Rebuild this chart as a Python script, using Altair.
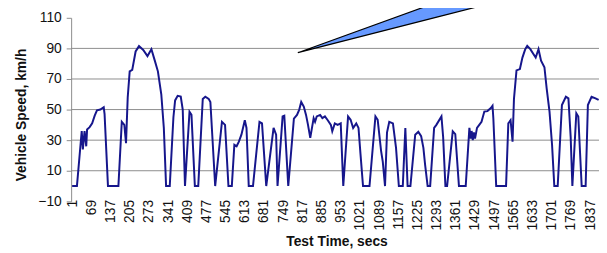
import altair as alt
import pandas as pd

# Speed trace (seconds, km/h)
TIME_S = [1, 18, 35, 39, 45, 51, 54, 63, 72, 81, 89, 101, 113, 116, 128,
          165, 177, 186, 192, 198, 205, 214, 226, 238, 253, 268, 282, 294, 305, 317, 326, 334,
          347, 360, 366, 375, 386, 393, 401, 417, 424, 436, 448, 464, 473, 485, 491, 508,
          532, 543, 555, 567, 576, 584, 592, 601, 613, 619, 627, 642, 665, 674, 689,
          715, 724, 729, 747, 753, 767, 787, 798, 806, 813, 822, 830, 837, 845, 857, 862,
          868, 880, 888, 897, 907, 918, 923, 932, 942, 953, 962, 979, 988, 997, 1008, 1016,
          1023, 1032, 1055, 1076, 1084, 1096, 1102, 1110, 1117, 1125, 1138, 1149, 1159, 1173,
          1182, 1190, 1200, 1217, 1228, 1238, 1246, 1252, 1261, 1270, 1284, 1292, 1310, 1316,
          1324, 1330, 1350, 1359, 1372, 1396, 1409, 1414, 1417, 1421, 1425, 1429, 1436, 1444,
          1452, 1462, 1473, 1485, 1491, 1494, 1504, 1539, 1547, 1555, 1562, 1567, 1576, 1588,
          1597, 1607, 1614, 1625, 1637, 1644, 1654, 1663, 1675, 1683, 1693, 1702, 1710, 1722,
          1737, 1751, 1760, 1768, 1774, 1788, 1795, 1807, 1821, 1829, 1842, 1856, 1867]
SPEED_KMH = [0, 0, 36, 24, 36, 26, 37, 38.5, 41, 46, 49.5, 50, 51.5, 47, 0,
             0, 42, 40, 28, 58, 75, 76, 88, 91.5, 89, 85, 89.5, 82, 75, 60, 38, 0,
             0, 45, 56, 59, 58.5, 50, 0, 48.5, 46.5, 0, 0, 57, 58.4, 57, 55, 0,
             42, 40, 0, 0, 27, 26, 29, 33.6, 43, 38, 0, 0, 42, 41, 0,
             38, 33.6, 0, 45.5, 46, 0, 44, 46.5, 50, 55, 52, 46.5, 40, 31.5, 44.4, 42,
             45.5, 46.5, 44.4, 45.5, 43, 40, 35.8, 41, 40, 41, 0, 45.5, 43.3, 38, 41, 38,
             21, 0, 0, 45.5, 43.3, 23, 16, 0, 35, 42, 41, 25, 0, 0,
             38, 0, 0, 33.6, 35.5, 32.6, 25, 14, 0, 0, 38, 40, 45.5, 32,
             0, 0, 35.8, 34, 0, 0, 38, 31, 36, 30, 35, 31, 38, 40,
             42, 48.7, 49, 51, 52.5, 44, 0, 0, 41, 43, 29, 57, 75.6, 76.5,
             84, 89.5, 91.7, 89.5, 86, 84, 89.5, 82, 77.7, 63.7, 48.7, 27, 0, 0,
             53, 58.4, 57.3, 32, 0, 47.6, 45.5, 0, 0, 53, 58.4, 57.3, 56.3]

X_TICKS = [1, 69, 137, 205, 273, 341, 409, 477, 545, 613, 681, 749, 817, 885, 953,
           1021, 1089, 1157, 1225, 1293, 1361, 1429, 1497, 1565, 1633, 1701, 1769, 1837]
Y_TICKS = [-10, 10, 30, 50, 70, 90, 110]
GRID_LINES = [10, 30, 50, 70, 90]

# Callout pointer (data units)
CALLOUT_X = [801, 1297, 1503]
CALLOUT_TOP = [87.2, 120.3, 120.3]
CALLOUT_BOTTOM = [87.2, 110.6, 120.3]

FONT = "Liberation Sans"

df = pd.DataFrame({"t": TIME_S, "v": SPEED_KMH})
df_grid = pd.DataFrame({"v": GRID_LINES})
df_call = pd.DataFrame({"t": CALLOUT_X, "v": CALLOUT_TOP, "bot": CALLOUT_BOTTOM})

x_scale = alt.Scale(domain=[-2.5, 1868.4], nice=False, zero=False)
y_scale = alt.Scale(domain=[-10, 110], nice=False, zero=False)

x_axis = alt.Axis(
    values=X_TICKS,
    format="d",
    labelAngle=270,
    labelAlign="right",
    labelBaseline="middle",
    labelFont=FONT,
    labelFontSize=14,
    labelColor="#111111",
    labelPadding=-2,
    labelOverlap=False,
    labelFlush=False,
    domain=False,
    ticks=False,
    grid=False,
    titleFont=FONT,
    titleFontSize=14,
    titleFontWeight="bold",
    titleColor="#111111",
    titleX=269,
    titleY=45,
    titleAlign="center",
    titleBaseline="alphabetic",
)
y_axis = alt.Axis(
    values=Y_TICKS,
    format="d",
    grid=False,
    domainColor="#8c8c8c",
    tickColor="#8c8c8c",
    tickSize=5,
    labelPadding=5,
    labelFont=FONT,
    labelFontSize=14,
    labelColor="#111111",
    titleFont=FONT,
    titleFontSize=14,
    titleFontWeight="bold",
    titleColor="#111111",
    titleAngle=270,
    titleX=-50,
    titleY=98,
    titleAlign="center",
    titleBaseline="middle",
)

X_TITLE = "Test Time, secs"
Y_TITLE = "Vehicle Speed, km/h"

line = alt.Chart(df).mark_line(color="#16168c", strokeWidth=2).encode(
    x=alt.X("t:Q", scale=x_scale, axis=x_axis, title=X_TITLE),
    y=alt.Y("v:Q", scale=y_scale, axis=y_axis, title=Y_TITLE),
)

grid = alt.Chart(df_grid).mark_rule(color="#8c8c8c", strokeWidth=1).encode(
    y=alt.Y("v:Q", scale=y_scale, axis=y_axis, title=Y_TITLE)
)

callout = alt.Chart(df_call).mark_area(
    fill="#6699ff", stroke="black", strokeWidth=1.2, opacity=1
).encode(
    x=alt.X("t:Q", scale=x_scale, axis=x_axis, title=X_TITLE),
    y=alt.Y("v:Q", scale=y_scale, axis=y_axis, title=Y_TITLE),
    y2="bot:Q",
)

chart = (
    alt.layer(grid, line, callout)
    .properties(
        width=535,
        height=186,
        autosize=alt.AutoSizeParams(type="none"),
        padding={"left": 64, "top": 8.3, "right": 0, "bottom": 50},
        background="white",
    )
    .configure_view(stroke=None)
)

chart.save("out.html", embed_options={"renderer": "svg", "actions": False})
